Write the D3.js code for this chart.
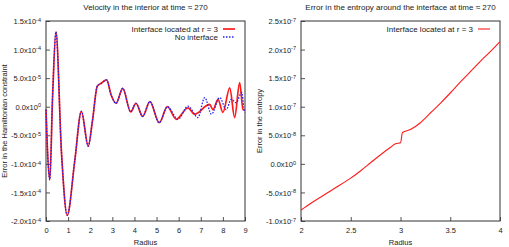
<!DOCTYPE html>
<html>
<head>
<meta charset="utf-8">
<script src="https://cdn.jsdelivr.net/npm/d3@7"></script>
<style>
  body { margin: 0; background: #fff; }
  svg text { font-family: "Liberation Sans", Arial, sans-serif; fill: #222; }
  .frame { fill: none; stroke: #333; stroke-width: 1; }
  .tick line { stroke: #555; }
</style>
</head>
<body>
<svg id="chart" width="509" height="247"></svg>
<script>
// left panel: velocity (values in units of 1e-4)
const velR = [0, 0.05, 0.17, 0.3, 0.45, 0.7, 0.96, 1.3, 1.6, 1.91, 2.1, 2.32, 2.5, 2.74, 2.95, 3.17, 3.47, 3.83, 4.07, 4.37, 4.7, 5.12, 5.49, 5.89, 6.42, 6.72, 7.4, 7.55, 7.78, 8.0, 8.31, 8.53, 8.76, 8.91, 9.0];
const velWithInterface = [-0.05, -0.6, -1.28, 0.2, 1.31, -0.8, -1.9, -0.95, -0.08, -0.69, -0.25, 0.36, 0.41, 0.47, 0.2, 0.06, 0.32, -0.09, 0.06, -0.17, 0.09, -0.28, 0.0, -0.22, -0.02, -0.13, 0.04, -0.05, 0.13, -0.1, 0.33, -0.19, 0.42, -0.05, -0.06];
const velNoR = [0, 0.05, 0.17, 0.3, 0.45, 0.7, 0.96, 1.3, 1.6, 1.91, 2.1, 2.32, 2.5, 2.74, 2.95, 3.17, 3.47, 3.83, 4.07, 4.37, 4.7, 5.12, 5.49, 5.97, 6.42, 6.87, 7.18, 7.48, 7.86, 8.15, 8.38, 8.6, 8.85, 8.95, 9.0];
const velNoInterface = [-0.05, -0.6, -1.28, 0.2, 1.31, -0.8, -1.9, -0.95, -0.08, -0.69, -0.25, 0.36, 0.41, 0.47, 0.2, 0.06, 0.32, -0.09, 0.06, -0.17, 0.09, -0.28, 0.0, -0.22, 0.01, -0.19, 0.16, -0.13, 0.16, -0.05, 0.13, 0.07, 0.25, -0.02, -0.1];
const velTicksY = [1.5, 1.0, 0.5, 0, -0.5, -1.0, -1.5, -2.0];
const velTickLabels = [["1.5", "-4"], ["1.0", "-4"], ["5.0", "-5"], ["0.0", "0"], ["-5.0", "-5"], ["-1.0", "-4"], ["-1.5", "-4"], ["-2.0", "-4"]];
const velTicksX = [0, 1, 2, 3, 4, 5, 6, 7, 8, 9];

// right panel: entropy (values in units of 1e-7)
const entR = [2.0, 2.1, 2.2, 2.3, 2.4, 2.5, 2.6, 2.7, 2.8, 2.9, 2.95, 3.0, 3.02, 3.1, 3.2, 3.3, 3.4, 3.5, 3.6, 3.7, 3.8, 3.9, 4.0];
const entropy = [-0.81, -0.69, -0.58, -0.47, -0.36, -0.25, -0.12, 0.02, 0.16, 0.29, 0.35, 0.37, 0.55, 0.6, 0.72, 0.89, 1.06, 1.24, 1.43, 1.61, 1.79, 1.96, 2.14];
const entTicksY = [2.5, 2.0, 1.5, 1.0, 0.5, 0, -0.5, -1.0];
const entTickLabels = [["2.5", "-7"], ["2.0", "-7"], ["1.5", "-7"], ["1.0", "-7"], ["5.0", "-8"], ["0.0", "0"], ["-5.0", "-8"], ["-1.0", "-7"]];
const entTicksX = [2, 2.5, 3, 3.5, 4];

const svg = d3.select("#chart");

function panel(opt) {
    const x = d3.scaleLinear().domain(opt.xDomain).range([opt.left, opt.right]);
    const y = d3.scaleLinear().domain(opt.yDomain).range([221, 21]);
    const g = svg.append("g");

    // axes with inward ticks
    const ax = g.append("g").attr("transform", "translate(0,221)")
        .call(d3.axisBottom(x).tickValues(opt.ticksX).tickSize(-4).tickPadding(7)
            .tickFormat(d => String(d)));
    ax.select(".domain").remove();
    ax.selectAll("text").attr("font-size", 7.5);

    const ay = g.append("g").attr("transform", `translate(${opt.left},0)`)
        .call(d3.axisLeft(y).tickValues(opt.ticksY).tickSize(-4).tickPadding(5).tickFormat(""));
    ay.select(".domain").remove();
    ay.selectAll(".tick text").each(function(d, i) {
        const t = d3.select(this).attr("font-size", 7.5).attr("dy", "0.35em");
        const lab = opt.labelsY[i];
        t.append("tspan").text(lab[0] + "x10");
        t.append("tspan").attr("font-size", 5.5).attr("dy", "-0.45em").text(lab[1]);
    });

    g.append("rect").attr("class", "frame")
        .attr("x", opt.left).attr("y", 21)
        .attr("width", opt.right - opt.left).attr("height", 200);

    const line = d3.line().x(d => x(d[0])).y(d => y(d[1])).curve(opt.curve);
    const lines = g.append("g");
    opt.series.forEach(s => {
        lines.append("path")
            .datum(d3.zip(s.r, s.v))
            .attr("d", line)
            .attr("fill", "none")
            .attr("stroke", s.color)
            .attr("stroke-width", s.width)
            .attr("stroke-dasharray", s.dash || null);
    });

    // titles
    g.append("text").attr("x", (opt.left + opt.right) / 2).attr("y", 10)
        .attr("text-anchor", "middle").attr("font-size", 8).text(opt.title);
    g.append("text").attr("x", (opt.left + opt.right) / 2).attr("y", 245)
        .attr("text-anchor", "middle").attr("font-size", 7.5).text("Radius");
    g.append("text")
        .attr("transform", `translate(${opt.yLabelX},121) rotate(-90)`)
        .attr("text-anchor", "middle").attr("font-size", 7.5).text(opt.yLabel);

    // legend
    opt.series.forEach((s, i) => {
        const ly = 29 + i * 8;
        g.append("text").attr("x", opt.right - 27).attr("y", ly + 3)
            .attr("text-anchor", "end").attr("font-size", 8).text(s.name);
        g.append("line").attr("x1", opt.right - 22).attr("x2", opt.right - 10)
            .attr("y1", ly).attr("y2", ly)
            .attr("stroke", s.color).attr("stroke-width", s.width)
            .attr("stroke-dasharray", s.dash || null);
    });
}

panel({
    left: 46, right: 245, xDomain: [0, 9], yDomain: [-2.0, 1.5],
    ticksX: velTicksX, ticksY: velTicksY, labelsY: velTickLabels,
    title: "Velocity in the interior at time \u2248 270",
    yLabel: "Error in the Hamiltonian constraint", yLabelX: 7,
    curve: d3.curveMonotoneX,
    series: [
        {name: "Interface located at r = 3", r: velR, v: velWithInterface, color: "#ff1a1a", width: 1.7},
        {name: "No interface", r: velNoR, v: velNoInterface, color: "#2222ee", width: 1.3, dash: "1.5,1.5"}
    ]
});

panel({
    left: 301, right: 500, xDomain: [2, 4], yDomain: [-1.0, 2.5],
    ticksX: entTicksX, ticksY: entTicksY, labelsY: entTickLabels,
    title: "Error in the entropy around the interface at time \u2248 270",
    yLabel: "Error in the entropy", yLabelX: 262,
    curve: d3.curveMonotoneX,
    series: [
        {name: "Interface located at r = 3", r: entR, v: entropy, color: "#ff1a1a", width: 1.1}
    ]
});
</script>
</body>
</html>
